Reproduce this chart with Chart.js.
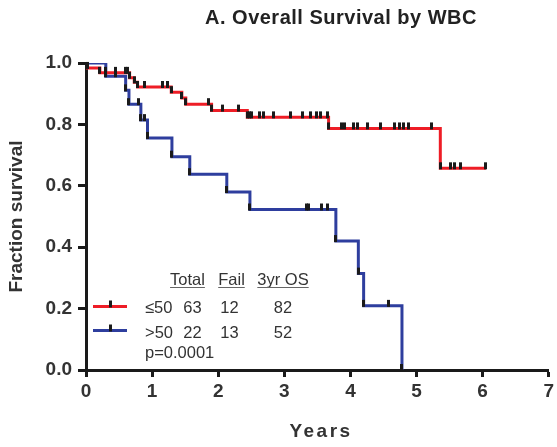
<!DOCTYPE html>
<html>
<head>
<meta charset="utf-8">
<script src="https://cdn.jsdelivr.net/npm/chart.js@4.4.1/dist/chart.umd.min.js"></script>
<style>
  html, body { margin: 0; padding: 0; background: #fff; }
  #wrap { position: relative; width: 557px; height: 447px; }
</style>
</head>
<body>
<div id="wrap"><canvas id="kmChart" width="557" height="447"></canvas></div>
<script>
const titleText = 'A. Overall Survival by WBC';
const xTitle = 'Years';
const yTitle = 'Fraction survival';
const xTickValues = [0, 1, 2, 3, 4, 5, 6, 7];
const yTickValues = [0, 0.2, 0.4, 0.6, 0.8, 1.0];

// WBC <50: time of each step and survival after it (last entry = end of follow-up)
const lowTimes = [0, 0.02, 0.21, 0.66, 0.73, 0.78, 1.29, 1.45, 1.51, 1.90, 2.44, 3.67, 5.36, 6.05];
const lowSurv = [1.0, 0.984, 0.968, 0.952, 0.937, 0.922, 0.905, 0.886, 0.866, 0.845, 0.823, 0.787, 0.657, 0.657];
const lowCensored = [0.30, 0.45, 0.60, 0.63, 0.88, 1.15, 1.24, 1.86, 2.07, 2.30, 2.48, 2.51,
  2.62, 2.68, 2.84, 3.10, 3.28, 3.39, 3.49, 3.54, 3.65, 3.86, 3.91, 4.05, 4.10, 4.26,
  4.45, 4.66, 4.75, 4.80, 4.88, 5.23, 5.51, 5.58, 5.66];

// WBC >50
const highTimes = [0, 0.30, 0.60, 0.65, 0.83, 0.93, 1.30, 1.57, 2.13, 2.48, 3.78, 4.12, 4.20, 4.78];
const highSurv = [1.0, 0.957, 0.911, 0.866, 0.814, 0.756, 0.695, 0.638, 0.580, 0.523, 0.420, 0.314, 0.209, 0];
const highCensored = [0.45, 0.80, 0.88, 3.33, 3.37, 3.56, 3.66, 4.58];

// summary table
const tableHeader = ['Total', 'Fail', '3yr OS'];
const groupLabels = ['\u226450', '>50'];
const groupTotal = [63, 22];
const groupFail = [12, 13];
const groupOS3 = [82, 52];
const pValue = 'p=0.0001';

const redColor = '#ee1d26';
const blueColor = '#2e3e9e';

function stepPoints(times, surv) {
  return times.map((t, i) => ({ x: t, y: surv[i] }));
}

// survival level of the curve at time t (the step it sits on)
function levelAt(times, surv, t) {
  let s = surv[0];
  for (let i = 0; i < times.length; i++) {
    if (times[i] <= t) s = surv[i];
  }
  return s;
}

function tickPoints(times, surv, censored) {
  const pts = times.slice(1).map((t, i) => ({ x: t, y: surv[i + 1] }));
  censored.forEach(t => pts.push({ x: t, y: levelAt(times, surv, t) }));
  return pts;
}

// small vertical mark standing on the curve
const tickMark = document.createElement('canvas');
tickMark.width = 3;
tickMark.height = 14;
const tctx = tickMark.getContext('2d');
tctx.fillStyle = '#1a1a1a';
tctx.fillRect(0, 1, 3, 7);

const fontFamily = '"Liberation Sans", Arial, Helvetica, sans-serif';

const annotations = {
  id: 'annotations',
  afterDraw(chart) {
    const ctx = chart.ctx;
    ctx.save();
    ctx.textBaseline = 'alphabetic';

    // title
    ctx.fillStyle = '#222';
    ctx.font = 'bold 20px ' + fontFamily;
    ctx.letterSpacing = '0.5px';
    ctx.textAlign = 'center';
    ctx.fillText(titleText, 341, 24);

    // x axis title
    ctx.font = 'bold 19px ' + fontFamily;
    ctx.letterSpacing = '2.5px';
    ctx.fillStyle = '#333';
    ctx.fillText(xTitle, 321, 437);
    ctx.letterSpacing = '0px';

    // table
    ctx.font = '16.5px ' + fontFamily;
    ctx.fillStyle = '#333';
    ctx.strokeStyle = '#666';
    ctx.lineWidth = 1;
    const headX = [187.5, 231.5, 283];
    tableHeader.forEach((h, i) => {
      ctx.textAlign = 'center';
      ctx.fillText(h, headX[i], 285);
      const w = ctx.measureText(h).width;
      ctx.beginPath();
      ctx.moveTo(headX[i] - w / 2, 287.5);
      ctx.lineTo(headX[i] + w / 2, 287.5);
      ctx.stroke();
    });

    const rowY = [313, 338];
    const lineY = [306.5, 330.5];
    const colors = [redColor, blueColor];
    groupLabels.forEach((g, i) => {
      ctx.strokeStyle = colors[i];
      ctx.lineWidth = 3;
      ctx.beginPath();
      ctx.moveTo(93, lineY[i]);
      ctx.lineTo(127, lineY[i]);
      ctx.stroke();
      ctx.fillStyle = '#1a1a1a';
      ctx.fillRect(109, lineY[i] - 6, 3, 7);

      ctx.fillStyle = '#333';
      ctx.textAlign = 'left';
      ctx.fillText(g, 145, rowY[i]);
      ctx.textAlign = 'center';
      ctx.fillText(String(groupTotal[i]), 192.5, rowY[i]);
      ctx.fillText(String(groupFail[i]), 229.5, rowY[i]);
      ctx.fillText(String(groupOS3[i]), 283, rowY[i]);
    });
    ctx.textAlign = 'left';
    ctx.fillText(pValue, 145, 358);

    ctx.restore();
  }
};

const ctx = document.getElementById('kmChart').getContext('2d');

new Chart(ctx, {
  type: 'scatter',
  data: {
    datasets: [
      {
        label: 'ticks <50',
        data: tickPoints(lowTimes, lowSurv, lowCensored),
        pointStyle: tickMark,
        pointRadius: 5,
        showLine: false,
        clip: 10,
        order: 0
      },
      {
        label: 'ticks >50',
        data: tickPoints(highTimes, highSurv, highCensored),
        pointStyle: tickMark,
        pointRadius: 5,
        showLine: false,
        clip: 10,
        order: 0
      },
      {
        label: groupLabels[0],
        data: stepPoints(lowTimes, lowSurv),
        showLine: true,
        stepped: true,
        borderColor: redColor,
        borderWidth: 3,
        pointRadius: 0,
        fill: false,
        order: 1
      },
      {
        label: groupLabels[1],
        data: stepPoints(highTimes, highSurv),
        showLine: true,
        stepped: true,
        borderColor: blueColor,
        borderWidth: 3,
        pointRadius: 0,
        fill: false,
        order: 2
      }
    ]
  },
  options: {
    responsive: false,
    devicePixelRatio: 1,
    animation: false,
    layout: { padding: { top: 63, right: 7, left: 0, bottom: 0 } },
    plugins: {
      legend: { display: false },
      tooltip: { enabled: false },
      title: { display: false }
    },
    scales: {
      x: {
        type: 'linear',
        min: 0,
        max: 7,
        afterBuildTicks: (s) => { s.ticks = xTickValues.map(v => ({ value: v })); },
        afterFit: (s) => { s.height = 77; },
        grid: { drawOnChartArea: false, drawTicks: true, tickLength: 7, tickWidth: 3, tickColor: '#1a1a1a' },
        border: { display: true, width: 3, color: '#1a1a1a' },
        ticks: {
          color: '#333',
          padding: 3,
          font: { family: fontFamily, size: 19, weight: 'bold' }
        }
      },
      y: {
        type: 'linear',
        min: 0,
        max: 1,
        afterBuildTicks: (s) => { s.ticks = yTickValues.map(v => ({ value: v })); },
        afterFit: (s) => { s.width = 86; },
        grid: { drawOnChartArea: false, drawTicks: true, tickLength: 8, tickWidth: 3, tickColor: '#1a1a1a' },
        border: { display: true, width: 3, color: '#1a1a1a' },
        ticks: {
          color: '#333',
          padding: 6,
          font: { family: fontFamily, size: 19, weight: 'bold' },
          callback: (v) => Number(v).toFixed(1)
        },
        title: {
          display: true,
          text: yTitle,
          color: '#333',
          padding: { top: 5, bottom: 0 },
          font: { family: fontFamily, size: 19, weight: 'bold' }
        }
      }
    }
  },
  plugins: [annotations]
});
</script>
</body>
</html>
